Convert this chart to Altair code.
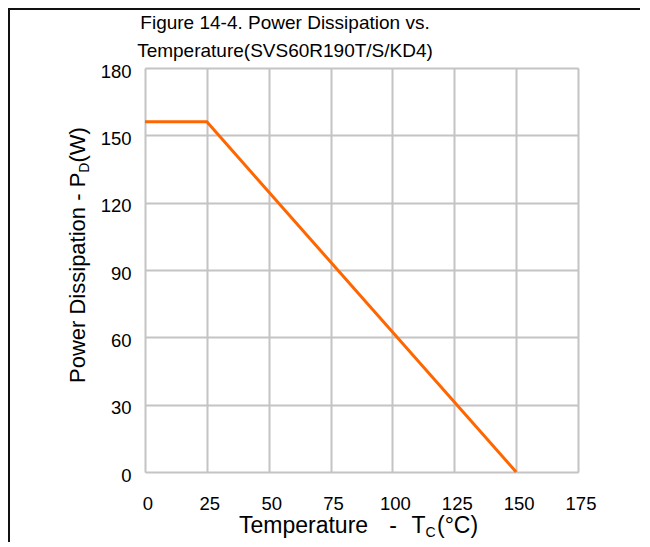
import altair as alt
import pandas as pd

# ---- data ----
temperature = [0, 25, 150]
power = [156, 156, 0]
x_ticks = [0, 25, 50, 75, 100, 125, 150, 175]
y_ticks = [0, 30, 60, 90, 120, 150, 180]
title_lines = ["Figure 14-4. Power Dissipation vs.", "Temperature(SVS60R190T/S/KD4)"]

FONT = "Liberation Sans"
GRID = "#C4C4C4"
ORANGE = "#FF6600"
W, H = 433, 404
PAD = {"left": 137, "top": 60, "right": 62, "bottom": 70}

df = pd.DataFrame({"temp": temperature, "pd": power})
one = pd.DataFrame({"k": [0]})

line = alt.Chart(df).mark_line(color=ORANGE, strokeWidth=3, clip=False).encode(
    x=alt.X("temp:Q",
            scale=alt.Scale(domain=[x_ticks[0], x_ticks[-1]], nice=False, zero=False),
            axis=alt.Axis(values=x_ticks, title=None, grid=True, gridColor=GRID, gridWidth=2,
                          domain=False, ticks=False, tickSize=0, labelPadding=22,
                          labelOffset=2.5, labelFontSize=18.5, labelFont=FONT,
                          labelColor="#000000", labelFlush=False)),
    y=alt.Y("pd:Q",
            scale=alt.Scale(domain=[y_ticks[0], y_ticks[-1]], nice=False, zero=False),
            axis=alt.Axis(values=y_ticks, title=None, grid=True, gridColor=GRID, gridWidth=2,
                          domain=False, ticks=False, tickSize=0, labelPadding=14,
                          labelOffset=3, labelFontSize=18.5, labelFont=FONT,
                          labelColor="#000000", labelFlush=False)),
)

def txt(s, x, y, size, angle=0, align="left"):
    kw = dict(text=s, font=FONT, fontSize=size, color="#000000", align=align,
              baseline="alphabetic")
    if angle:
        kw["angle"] = angle
    return alt.Chart(one).mark_text(**kw).encode(x=alt.value(x), y=alt.value(y))

# chart title (two centred lines)
tt = [
    txt(title_lines[0], 140, -39, 19, align="center"),
    txt(title_lines[1], 140, -11, 19, align="center"),
]
# x-axis title: "Temperature - T_C(°C)"
xt = [
    txt("Temperature", 94, 465, 23),
    txt("-", 248, 465, 23, align="center"),
    txt("T", 266.5, 465, 23),
    txt("C", 280.5, 469, 14),
    txt("(°C)", 292, 465, 23),
]
# y-axis title: "Power Dissipation - P_D(W)"
yt = [
    txt("Power Dissipation - P", -60, 315, 22, angle=270),
    txt("D", -56, 104.7, 14, angle=270),
    txt("(W)", -60, 94.6, 22, angle=270),
]

# thin dark frame along the top and left edges of the figure
frame_top = alt.Chart(one).mark_rule(color="#111111", strokeWidth=2).encode(
    x=alt.value(-PAD["left"]), x2=alt.value(W + PAD["right"]), y=alt.value(-PAD["top"] + 1))
frame_left = alt.Chart(one).mark_rule(color="#111111", strokeWidth=2).encode(
    x=alt.value(-PAD["left"] + 1), y=alt.value(-PAD["top"]), y2=alt.value(H + PAD["bottom"]))

chart = alt.layer(line, *tt, *xt, *yt, frame_top, frame_left).properties(
    width=W, height=H,
    autosize=alt.AutoSizeParams(type="none"),
    padding=PAD,
).configure_view(stroke=None).configure(background="#FFFFFF")

chart.save("out.html", embed_options={"renderer": "svg", "actions": False})
